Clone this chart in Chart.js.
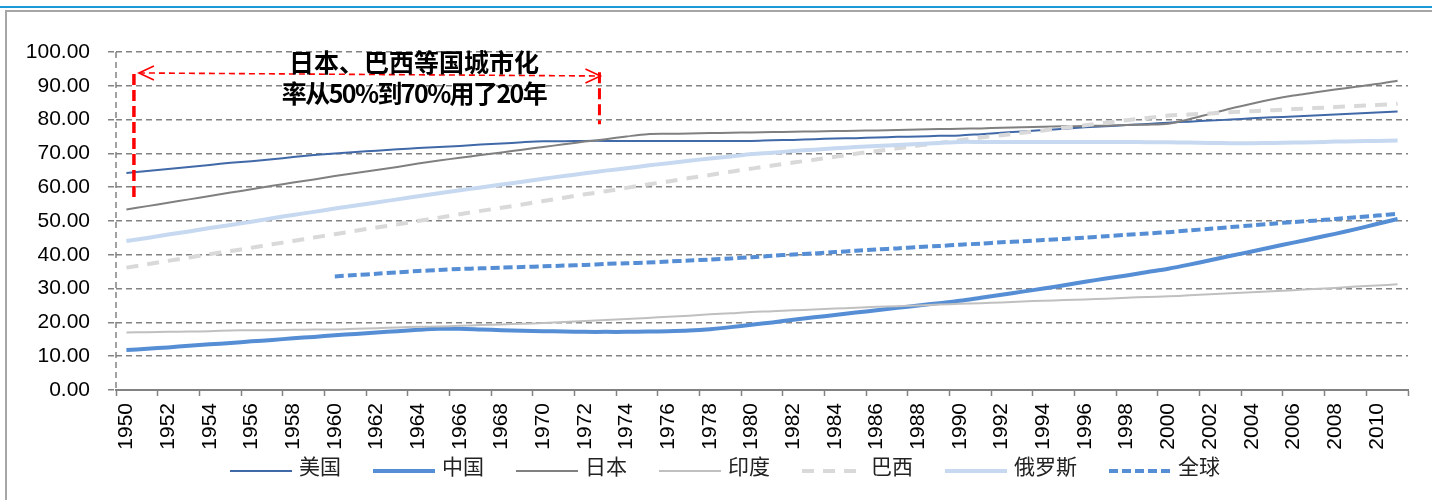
<!DOCTYPE html>
<html>
<head>
<meta charset="utf-8">
<script src="https://cdn.jsdelivr.net/npm/chart.js@4.4.1/dist/chart.umd.min.js"></script>
<style>
  html, body { margin: 0; padding: 0; background: #fff; }
  #wrap { position: relative; width: 1432px; height: 500px; overflow: hidden; }
  .topline { position: absolute; left: 0; top: 6px; width: 1432px; height: 2px; background: #1b9ad8; }
  .frame { position: absolute; left: 5px; top: 10px; width: 1440px; height: 500px; border: 2px solid #a6a6a6; box-sizing: border-box; }
  canvas { position: absolute; left: 0; top: 0; }
</style>
</head>
<body>
<div id="wrap">
  <div class="topline"></div>
  <div class="frame"></div>
  <canvas id="c" width="1432" height="500"></canvas>
</div>
<script>
// 城镇化率（%），1950–2011
const years = ['1950','1951','1952','1953','1954','1955','1956','1957','1958','1959',
  '1960','1961','1962','1963','1964','1965','1966','1967','1968','1969',
  '1970','1971','1972','1973','1974','1975','1976','1977','1978','1979',
  '1980','1981','1982','1983','1984','1985','1986','1987','1988','1989',
  '1990','1991','1992','1993','1994','1995','1996','1997','1998','1999',
  '2000','2001','2002','2003','2004','2005','2006','2007','2008','2009',
  '2010','2011'];

const usa = [64.2,64.8,65.4,66.0,66.6,67.2,67.7,68.3,68.9,69.5,
  70.0,70.4,70.8,71.2,71.6,71.9,72.2,72.6,72.9,73.3,
  73.6,73.6,73.7,73.7,73.7,73.7,73.7,73.7,73.7,73.7,
  73.7,73.9,74.0,74.2,74.4,74.5,74.7,74.9,75.0,75.2,
  75.3,75.7,76.1,76.5,76.9,77.3,77.7,78.0,78.4,78.7,
  79.1,79.4,79.7,80.0,80.4,80.7,80.9,81.2,81.5,81.8,
  82.1,82.4];

const china = [11.8,12.2,12.6,13.1,13.5,13.9,14.4,14.8,15.3,15.7,
  16.2,16.6,17.0,17.4,17.8,18.1,18.1,17.9,17.7,17.5,
  17.4,17.3,17.2,17.2,17.2,17.3,17.4,17.6,18.0,18.6,
  19.3,20.0,20.8,21.5,22.2,22.9,23.6,24.3,25.0,25.7,
  26.4,27.3,28.2,29.1,30.0,31.0,32.0,33.0,33.9,34.9,
  35.9,37.1,38.4,39.7,41.0,42.3,43.6,44.9,46.2,47.6,
  49.1,50.6];

const japan = [53.4,54.4,55.4,56.4,57.4,58.4,59.4,60.4,61.4,62.3,
  63.3,64.2,65.1,66.0,67.0,67.9,68.7,69.5,70.3,71.1,
  71.9,72.7,73.5,74.2,75.0,75.7,75.8,75.9,76.0,76.1,
  76.2,76.3,76.4,76.5,76.6,76.7,76.8,76.9,77.1,77.2,
  77.3,77.4,77.6,77.7,77.9,78.0,78.1,78.2,78.4,78.5,
  78.8,80.1,81.7,83.3,84.7,86.0,87.1,88.0,88.9,89.7,
  90.5,91.5];

const india = [17.0,17.1,17.2,17.3,17.4,17.6,17.7,17.7,17.8,17.9,
  17.9,18.1,18.3,18.5,18.7,18.8,19.0,19.2,19.4,19.6,
  19.8,20.1,20.4,20.7,21.0,21.3,21.7,22.0,22.4,22.7,
  23.1,23.3,23.6,23.8,24.1,24.3,24.6,24.8,25.0,25.3,
  25.5,25.7,25.9,26.2,26.4,26.6,26.8,27.0,27.3,27.5,
  27.7,28.0,28.3,28.6,28.9,29.2,29.5,29.9,30.2,30.6,
  30.9,31.3];

const brazil = [36.2,37.2,38.2,39.2,40.2,41.1,42.1,43.1,44.1,45.1,
  46.1,47.1,48.1,49.0,50.0,51.0,52.0,53.0,53.9,54.9,
  55.9,56.9,57.9,58.8,59.8,60.8,61.7,62.7,63.6,64.6,
  65.5,66.4,67.3,68.1,69.0,69.9,70.7,71.5,72.3,73.1,
  73.9,74.7,75.4,76.1,76.8,77.6,78.3,79.1,79.8,80.5,
  81.2,81.5,81.8,82.2,82.5,82.8,83.1,83.4,83.7,84.0,
  84.3,84.7];

const russia = [44.1,45.0,46.0,46.9,47.9,48.8,49.8,50.8,51.8,52.7,
  53.7,54.6,55.5,56.4,57.3,58.2,59.1,59.9,60.8,61.6,
  62.5,63.3,64.1,64.9,65.6,66.4,67.1,67.8,68.5,69.1,
  69.8,70.2,70.7,71.1,71.5,71.9,72.2,72.5,72.8,73.1,
  73.4,73.4,73.4,73.4,73.4,73.4,73.4,73.4,73.4,73.3,
  73.3,73.2,73.1,73.0,73.0,73.1,73.2,73.3,73.5,73.6,
  73.7,73.8];

const world = [null,null,null,null,null,null,null,null,null,null,
  33.6,34.0,34.4,34.8,35.2,35.5,35.8,36.0,36.2,36.4,
  36.6,36.8,37.0,37.3,37.5,37.7,38.0,38.3,38.6,38.9,
  39.3,39.7,40.1,40.4,40.8,41.2,41.6,41.9,42.3,42.6,
  43.0,43.3,43.7,44.0,44.4,44.7,45.1,45.5,45.9,46.3,
  46.7,47.2,47.7,48.2,48.7,49.2,49.7,50.1,50.6,51.1,
  51.6,52.1];

const seriesNames = ['美国','中国','日本','印度','巴西','俄罗斯','全球'];
const yTicks = [0,10,20,30,40,50,60,70,80,90,100];

// 标注：日本、巴西城市化率由50%升至70%的区间
const noteLines = ['日本、巴西等国城市化', '率从50%到70%用了20年'];
const noteStartYear = 1950.36;
const noteEndYear = 1972.7;

const GRID = '#828282';
const CN_FONT = '"Noto Sans CJK SC", "Noto Sans", sans-serif';
const NUM_FONT = '"Liberation Sans", Arial, sans-serif';

const styles = [
  { color: '#4169A8', width: 2,   dash: [] },
  { color: '#558ED5', width: 4,   dash: [] },
  { color: '#808080', width: 2,   dash: [] },
  { color: '#c0c0c0', width: 2,   dash: [] },
  { color: '#d9d9d9', width: 4,   dash: [12, 9] },
  { color: '#c6d9f1', width: 4,   dash: [] },
  { color: '#558ED5', width: 4,   dash: [9, 4] }
];
const values = [usa, china, japan, india, brazil, russia, world];

const datasets = values.map((v, i) => ({
  label: seriesNames[i],
  data: v,
  borderColor: styles[i].color,
  backgroundColor: styles[i].color,
  borderWidth: styles[i].width,
  borderDash: styles[i].dash,
  pointRadius: 0,
  pointHoverRadius: 0,
  tension: 0.3,
  fill: false,
  spanGaps: false,
  order: values.length - i
}));

// 纵轴虚线
const yAxisLine = {
  id: 'yAxisLine',
  beforeDatasetsDraw(chart) {
    const { ctx, chartArea } = chart;
    ctx.save();
    ctx.strokeStyle = GRID;
    ctx.lineWidth = 1.5;
    ctx.setLineDash([6, 4]);
    ctx.beginPath();
    ctx.moveTo(chartArea.left, chartArea.top);
    ctx.lineTo(chartArea.left, chartArea.bottom);
    ctx.stroke();
    ctx.restore();
  }
};

// 红色标注线与文字
const note = {
  id: 'note',
  afterDatasetsDraw(chart) {
    const { ctx } = chart;
    const xs = chart.scales.x, ys = chart.scales.y;
    const first = Number(years[0]);
    const px = yr => xs.getPixelForValue(yr - first);
    const x1 = px(noteStartYear), x2 = px(noteEndYear);
    ctx.save();
    ctx.strokeStyle = '#ff0000';
    ctx.lineCap = 'butt';
    // 左侧竖线
    ctx.lineWidth = 3.5;
    ctx.setLineDash([11, 5]);
    ctx.beginPath();
    ctx.moveTo(x1, ys.getPixelForValue(93.5));
    ctx.lineTo(x1, ys.getPixelForValue(56.6));
    ctx.stroke();
    // 右侧竖线
    ctx.lineWidth = 3;
    ctx.beginPath();
    ctx.moveTo(x2, ys.getPixelForValue(94.0));
    ctx.lineTo(x2, ys.getPixelForValue(78.6));
    ctx.stroke();
    // 双向箭头
    const ya = ys.getPixelForValue(93.8), yb = ys.getPixelForValue(92.9);
    const ax1 = x1 + 5, ax2 = x2 + 1;
    ctx.lineWidth = 1.6;
    ctx.setLineDash([6, 4]);
    ctx.beginPath();
    ctx.moveTo(ax1, ya);
    ctx.lineTo(ax2, yb);
    ctx.stroke();
    ctx.setLineDash([]);
    ctx.beginPath();
    ctx.moveTo(ax1 + 15, ya - 7);
    ctx.lineTo(ax1, ya);
    ctx.lineTo(ax1 + 15, ya + 7);
    ctx.moveTo(ax2 - 15, yb - 7);
    ctx.lineTo(ax2, yb);
    ctx.lineTo(ax2 - 15, yb + 7);
    ctx.stroke();
    // 文字
    const tx = px(1963.8);
    ctx.fillStyle = '#000';
    ctx.font = 'bold 25px ' + CN_FONT;
    ctx.textAlign = 'center';
    ctx.textBaseline = 'middle';
    ctx.fillText(noteLines[0], tx, ys.getPixelForValue(96.9));
    ctx.letterSpacing = '-1.6px';
    ctx.fillText(noteLines[1], tx, ys.getPixelForValue(87.6));
    ctx.restore();
  }
};

// 图例：线段样式 + 名称
const lineLegend = {
  id: 'lineLegend',
  afterDraw(chart, args, opts) {
    const { ctx } = chart;
    ctx.save();
    ctx.font = opts.fontSize + 'px ' + CN_FONT;
    ctx.textBaseline = 'middle';
    ctx.textAlign = 'left';
    let x = opts.left;
    chart.data.datasets.forEach(ds => {
      ctx.strokeStyle = ds.borderColor;
      ctx.lineWidth = ds.borderWidth;
      ctx.setLineDash(ds.borderDash || []);
      ctx.beginPath();
      ctx.moveTo(x, opts.lineY);
      ctx.lineTo(x + opts.sample, opts.lineY);
      ctx.stroke();
      x += opts.sample + opts.gap;
      ctx.fillStyle = '#222';
      ctx.fillText(ds.label, x, opts.textY);
      x += ctx.measureText(ds.label).width + opts.spacing;
    });
    ctx.restore();
  }
};

new Chart(document.getElementById('c'), {
  type: 'line',
  data: { labels: years, datasets },
  plugins: [yAxisLine, note, lineLegend],
  options: {
    responsive: false,
    animation: false,
    devicePixelRatio: 1,
    layout: { padding: { left: 0, right: 24, top: 52, bottom: 0 } },
    plugins: {
      legend: { display: false },
      tooltip: { enabled: false },
      lineLegend: { left: 230, lineY: 471, textY: 466, sample: 62, gap: 7, spacing: 32, fontSize: 21 }
    },
    scales: {
      x: {
        type: 'category',
        offset: true,
        afterFit: s => { s.height = 110; },
        grid: {
          offset: true,
          drawOnChartArea: false,
          drawTicks: true,
          tickLength: 6,
          tickWidth: 1.5,
          color: 'rgba(0,0,0,0)',
          tickColor: c => (c.index === undefined || c.index % 2 === 0) ? GRID : 'rgba(0,0,0,0)'
        },
        border: { display: true, color: GRID, width: 2 },
        ticks: {
          autoSkip: false,
          maxRotation: 90,
          minRotation: 90,
          padding: 7,
          color: '#000',
          font: { family: NUM_FONT, size: 21 },
          callback: function (v, i) { return i % 2 === 0 ? this.getLabelForValue(v) : ''; }
        }
      },
      y: {
        min: 0,
        max: 100,
        afterFit: s => { s.width = 116; },
        afterBuildTicks: s => { s.ticks = yTicks.map(v => ({ value: v })); },
        grid: {
          color: GRID,
          lineWidth: 1.5,
          drawTicks: true,
          tickLength: 8,
          tickBorderDash: [6, 4]
        },
        border: { display: false, dash: [6, 4] },
        ticks: {
          padding: 18,
          color: '#000',
          font: { family: NUM_FONT, size: 21 },
          callback: v => Number(v).toFixed(2)
        }
      }
    }
  }
});
</script>
</body>
</html>
